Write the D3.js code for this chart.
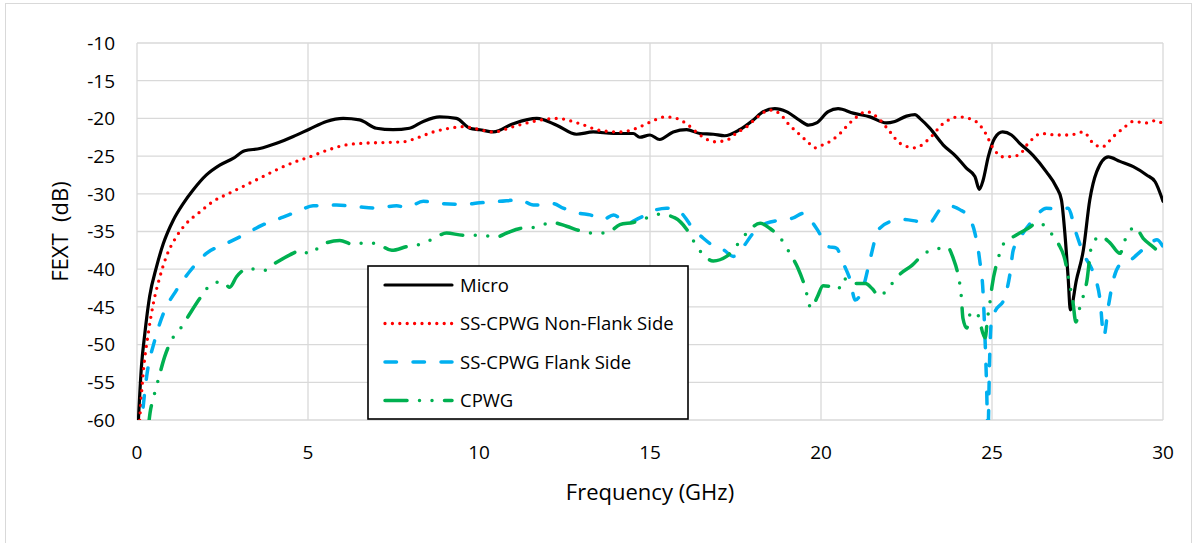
<!DOCTYPE html>
<html>
<head>
  <meta charset="utf-8">
  <title>FEXT vs Frequency</title>
  <style>
    body { margin: 0; background: #fff; }
    text { font-family: "Open Sans", sans-serif; fill: #000; }
    .grid line { stroke: #d9d9d9; stroke-width: 1.3; }
  </style>
  <script src="https://cdn.jsdelivr.net/npm/d3@7"></script>
</head>
<body>
<script>
// tick labels
var xTicks = [0, 5, 10, 15, 20, 25, 30];
var yTicks = [-10, -15, -20, -25, -30, -35, -40, -45, -50, -55, -60];

// Micro
var microF = [0.03, 0.13, 0.23, 0.37, 0.57, 0.77, 1.06, 1.35, 1.64, 2.03, 2.42, 2.81, 3.15, 3.59, 4.08, 4.57, 5.05, 5.54, 6.03, 6.51,
  7.0, 7.49, 7.97, 8.37, 8.85, 9.34, 9.73, 10.02, 10.42, 11.0, 11.69, 12.27, 12.85, 13.34, 13.93, 14.51, 14.70, 15.0, 15.28, 15.68,
  16.07, 16.46, 16.85, 17.18, 17.62, 18.02, 18.31, 18.65, 18.99, 19.39, 19.63, 19.87, 20.21, 20.5, 20.94, 21.43, 21.91, 22.16, 22.5, 22.75,
  22.89, 23.18, 23.57, 23.96, 24.25, 24.5, 24.63, 24.74, 24.89, 25.08, 25.31, 25.57, 25.81, 26.2, 26.59, 26.88, 27.03, 27.13, 27.23, 27.29,
  27.47, 27.67, 27.86, 28.06, 28.4, 28.74, 29.13, 29.52, 29.77, 30.0];
var microDb = [-61, -52.9, -48.5, -43.6, -39.7, -36.6, -33.5, -31.3, -29.5, -27.5, -26.2, -25.3, -24.3, -24.0, -23.3, -22.4, -21.4, -20.4, -20.0, -20.2,
  -21.3, -21.5, -21.3, -20.4, -19.8, -20.0, -21.3, -21.5, -21.8, -20.7, -20.0, -20.9, -22.1, -21.8, -22.0, -22.0, -22.5, -22.2, -22.8, -21.8,
  -21.5, -22.0, -22.1, -22.3, -21.5, -20.2, -19.1, -18.7, -19.1, -20.3, -20.9, -20.6, -19.1, -18.7, -19.3, -19.8, -20.6, -20.4, -19.7, -19.5,
  -20.0, -21.3, -23.5, -25.1, -26.6, -27.7, -29.4, -28.2, -25.1, -22.6, -21.8, -22.2, -23.3, -24.9, -27.1, -29.1, -30.8, -35.2, -41.4, -45.4,
  -41.4, -37.5, -30.8, -27.1, -25.1, -25.7, -26.4, -27.5, -28.4, -31.0];

// SS-CPWG Non-Flank Side
var nonFlankF = [0.05, 0.18, 0.33, 0.48, 0.67, 0.86, 1.15, 1.45, 1.84, 2.23, 2.71, 3.2, 3.69, 4.18, 4.66, 5.05, 5.64, 6.13, 6.61, 7.2,
  7.79, 8.18, 8.66, 9.14, 9.54, 9.93, 10.42, 11.0, 11.59, 12.27, 12.95, 13.54, 14.12, 14.61, 15.0, 15.44, 15.78, 16.12, 16.46, 16.9,
  17.24, 17.54, 17.83, 18.12, 18.51, 18.8, 19.04, 19.39, 19.63, 19.82, 20.0, 20.21, 20.46, 20.94, 21.33, 21.68, 22.02, 22.31, 22.75, 23.14,
  23.57, 24.01, 24.45, 24.79, 25.04, 25.33, 25.77, 26.06, 26.45, 26.88, 27.28, 27.67, 27.96, 28.21, 28.55, 28.84, 29.13, 29.52, 29.77, 30.0];
var nonFlankDb = [-62, -53.8, -48.5, -44.5, -41.0, -38.3, -35.7, -33.9, -32.4, -31.0, -29.9, -28.8, -27.7, -26.6, -25.7, -25.1, -24.1, -23.5, -23.3, -23.2,
  -23.1, -22.6, -21.8, -21.3, -21.1, -21.4, -21.8, -21.1, -20.4, -20.0, -20.7, -21.6, -21.8, -21.3, -20.5, -19.8, -20.0, -20.9, -22.2, -23.1,
  -22.9, -21.9, -21.1, -19.9, -18.9, -19.4, -20.7, -22.2, -23.2, -23.9, -23.6, -23.2, -22.4, -20.2, -19.1, -20.0, -21.8, -23.3, -23.9, -22.8,
  -20.7, -19.8, -20.2, -21.8, -24.0, -25.1, -24.9, -23.3, -22.0, -22.2, -22.2, -21.8, -23.3, -23.8, -22.4, -21.3, -20.4, -20.6, -20.3, -20.7];

// SS-CPWG Flank Side
var flankF = [0.1, 0.28, 0.52, 0.77, 1.15, 1.54, 2.03, 2.61, 3.1, 3.69, 4.27, 4.66, 5.15, 5.83, 6.42, 7.0, 7.59, 7.89, 8.37, 8.95,
  9.54, 10.02, 10.61, 11.2, 11.59, 12.17, 12.46, 12.95, 13.25, 13.63, 13.93, 14.32, 14.7, 15.19, 15.48, 15.87, 16.26, 16.56, 16.85, 17.14,
  17.44, 17.73, 18.02, 18.41, 18.8, 19.19, 19.48, 19.87, 20.21, 20.45, 20.65, 20.85, 21.0, 21.24, 21.43, 21.68, 22.02, 22.4, 22.89, 23.18,
  23.48, 23.72, 24.06, 24.3, 24.5, 24.64, 24.74, 24.79, 24.84, 24.88, 24.93, 24.98, 25.1, 25.35, 25.53, 25.62, 25.91, 26.2, 26.59, 26.98,
  27.23, 27.43, 27.67, 27.96, 28.16, 28.27, 28.4, 28.55, 28.79, 29.04, 29.33, 29.57, 29.82, 30.0];
var flankDb = [-62, -54.3, -49.4, -45.9, -42.8, -40.3, -37.9, -36.6, -35.5, -34.1, -33.1, -32.4, -31.6, -31.5, -31.7, -31.9, -31.6, -31.8, -31.0, -31.3,
  -31.4, -31.2, -31.0, -30.8, -31.5, -31.3, -31.9, -32.6, -32.8, -33.4, -32.8, -33.9, -33.2, -32.1, -31.9, -32.4, -34.6, -35.9, -36.9, -37.4,
  -38.3, -37.0, -35.2, -33.9, -33.5, -33.2, -32.6, -34.6, -37.0, -37.2, -39.2, -41.4, -44.1, -42.3, -38.8, -34.8, -33.7, -33.4, -33.7, -33.8,
  -32.1, -31.6, -32.1, -33.0, -35.2, -38.8, -43.2, -48.5, -55.1, -62, -52.0, -47.0, -45.5, -44.0, -40.5, -37.5, -35.2, -33.5, -31.9, -32.1,
  -31.9, -34.8, -37.9, -40.5, -44.1, -48.9, -45.0, -41.4, -39.2, -38.8, -37.7, -36.8, -36.1, -37.0];

// CPWG
var cpwgF = [0.33, 0.38, 0.48, 0.62, 0.81, 1.01, 1.25, 1.49, 1.88, 2.23, 2.52, 2.71, 2.91, 3.25, 3.69, 4.04, 4.47, 4.81, 5.05, 5.2,
  5.54, 5.93, 6.32, 6.71, 7.06, 7.45, 7.89, 8.37, 8.76, 9.05, 9.54, 10.02, 10.52, 10.81, 11.2, 11.69, 12.13, 12.56, 12.95, 13.29,
  13.73, 14.12, 14.51, 14.9, 15.29, 15.73, 16.07, 16.32, 16.56, 16.85, 17.24, 17.54, 17.83, 18.22, 18.51, 18.85, 19.09, 19.33, 19.53, 19.71,
  19.9, 20.06, 20.35, 20.5, 20.65, 20.9, 21.3, 21.5, 21.7, 22.0, 22.3, 22.66, 23.0, 23.4, 23.7, 23.87, 24.0, 24.1, 24.15, 24.26,
  24.38, 24.55, 24.8, 24.87, 24.94, 25.0, 25.18, 25.33, 25.7, 26.05, 26.35, 26.7, 26.95, 27.13, 27.25, 27.37, 27.45, 27.57, 27.78, 27.9,
  28.16, 28.45, 28.74, 28.9, 29.18, 29.42, 29.7, 30.0];
var cpwgDb = [-61, -59.1, -57.1, -54.7, -51.6, -49.4, -48.0, -46.3, -43.6, -41.8, -41.7, -42.4, -41.0, -39.9, -40.2, -39.2, -38.1, -37.5, -38.0, -37.5,
  -36.5, -36.2, -36.7, -36.5, -36.7, -37.5, -37.0, -36.6, -35.7, -35.2, -35.5, -35.5, -35.7, -35.2, -34.6, -34.4, -33.8, -34.3, -34.9, -35.2,
  -35.2, -34.1, -33.8, -33.2, -32.7, -33.2, -34.7, -36.6, -38.1, -38.9, -38.3, -36.8, -35.2, -33.9, -34.6, -36.1, -37.9, -39.9, -42.3, -45.2,
  -43.6, -42.2, -42.4, -42.7, -41.2, -41.9, -41.9, -42.6, -43.6, -42.3, -40.7, -39.5, -38.0, -37.3, -37.1, -38.6, -40.6, -43.5, -46.5, -47.8,
  -45.7, -45.8, -49.1, -46.5, -44.4, -42.3, -38.6, -36.7, -35.5, -34.6, -33.8, -35.1, -36.7, -38.7, -41.5, -44.5, -47.0, -45.0, -41.4, -37.2,
  -35.6, -36.5, -37.9, -36.0, -34.4, -35.9, -37.0, -38.1];

var seriesNames = ["Micro", "SS-CPWG Non-Flank Side", "SS-CPWG Flank Side", "CPWG"];

// set the dimensions and margins of the graph
var margin = {top: 43, right: 35, bottom: 123, left: 137},
    width = 1198 - margin.left - margin.right,
    height = 543 - margin.top - margin.bottom;

var x = d3.scaleLinear().domain([0, 30]).range([0, width]);
var y = d3.scaleLinear().domain([-60, -10]).range([height, 0]);

var svg = d3.select("body").append("svg")
    .attr("width", 1198)
    .attr("height", 543);

// outer chart border
svg.append("rect")
    .attr("x", 5.5).attr("y", 3.5)
    .attr("width", 1186).attr("height", 545)
    .attr("fill", "#fff")
    .attr("stroke", "#d9d9d9")
    .attr("stroke-width", 1);

var g = svg.append("g")
    .attr("transform", "translate(" + margin.left + "," + margin.top + ")");

// gridlines
var grid = g.append("g").attr("class", "grid");
grid.selectAll(".hline")
    .data(yTicks)
  .enter().append("line")
    .attr("x1", 0).attr("x2", width)
    .attr("y1", function(d) { return y(d); })
    .attr("y2", function(d) { return y(d); });
grid.selectAll(".vline")
    .data(xTicks)
  .enter().append("line")
    .attr("y1", 0).attr("y2", height)
    .attr("x1", function(d) { return x(d); })
    .attr("x2", function(d) { return x(d); });

// tick labels
g.selectAll(".ylab")
    .data(yTicks)
  .enter().append("text")
    .attr("x", -22)
    .attr("y", function(d) { return y(d) + 6.8; })
    .attr("text-anchor", "end")
    .style("font-size", "19px")
    .text(function(d) { return d; });
g.selectAll(".xlab")
    .data(xTicks)
  .enter().append("text")
    .attr("x", function(d) { return x(d); })
    .attr("y", height + 39)
    .attr("text-anchor", "middle")
    .style("font-size", "19px")
    .text(function(d) { return d; });

// axis titles
svg.append("text")
    .attr("transform", "translate(68," + (margin.top + height / 2) + ") rotate(-90)")
    .attr("text-anchor", "middle")
    .style("font-size", "22px")
    .style("white-space", "pre")
    .text("FEXT\u00a0\u00a0(dB)");
svg.append("text")
    .attr("x", margin.left + width / 2)
    .attr("y", 500)
    .attr("text-anchor", "middle")
    .style("font-size", "22px")
    .text("Frequency (GHz)");

// clip to the plot area
svg.append("clipPath").attr("id", "plot")
  .append("rect").attr("width", width).attr("height", height);

var styles = [
  {color: "#000000", width: 3.2, dash: null},
  {color: "#ff0000", width: 3.3, dash: "0 7.4"},
  {color: "#00b0f0", width: 3.5, dash: "11.5 16.5"},
  {color: "#00b050", width: 3.5, dash: "22 12.5 0 12.5 0 12.5"}
];

var series = [
  d3.zip(microF, microDb),
  d3.zip(nonFlankF, nonFlankDb),
  d3.zip(flankF, flankDb),
  d3.zip(cpwgF, cpwgDb)
];

var line = d3.line()
    .x(function(d) { return x(d[0]); })
    .y(function(d) { return y(d[1]); })
    .curve(d3.curveMonotoneX);

var lines = g.append("g").attr("clip-path", "url(#plot)");
series.forEach(function(s, i) {
  lines.append("path")
      .datum(s)
      .attr("fill", "none")
      .attr("stroke", styles[i].color)
      .attr("stroke-width", styles[i].width)
      .attr("stroke-linecap", "round")
      .attr("stroke-linejoin", "round")
      .attr("stroke-dasharray", styles[i].dash)
      .attr("d", line);
});

// legend
var legend = svg.append("g").attr("transform", "translate(368,266)");
legend.append("rect")
    .attr("width", 320).attr("height", 153)
    .attr("fill", "#fff")
    .attr("stroke", "#000")
    .attr("stroke-width", 1.6);

seriesNames.forEach(function(name, i) {
  var cy = 19 + i * 38.5;
  legend.append("line")
      .attr("x1", 17).attr("x2", 84)
      .attr("y1", cy).attr("y2", cy)
      .attr("stroke", styles[i].color)
      .attr("stroke-width", styles[i].width)
      .attr("stroke-linecap", "round")
      .attr("stroke-dasharray", styles[i].dash);
  legend.append("text")
      .attr("x", 92)
      .attr("y", cy + 6.7)
      .style("font-size", "18.5px")
      .text(name);
});
</script>
</body>
</html>
